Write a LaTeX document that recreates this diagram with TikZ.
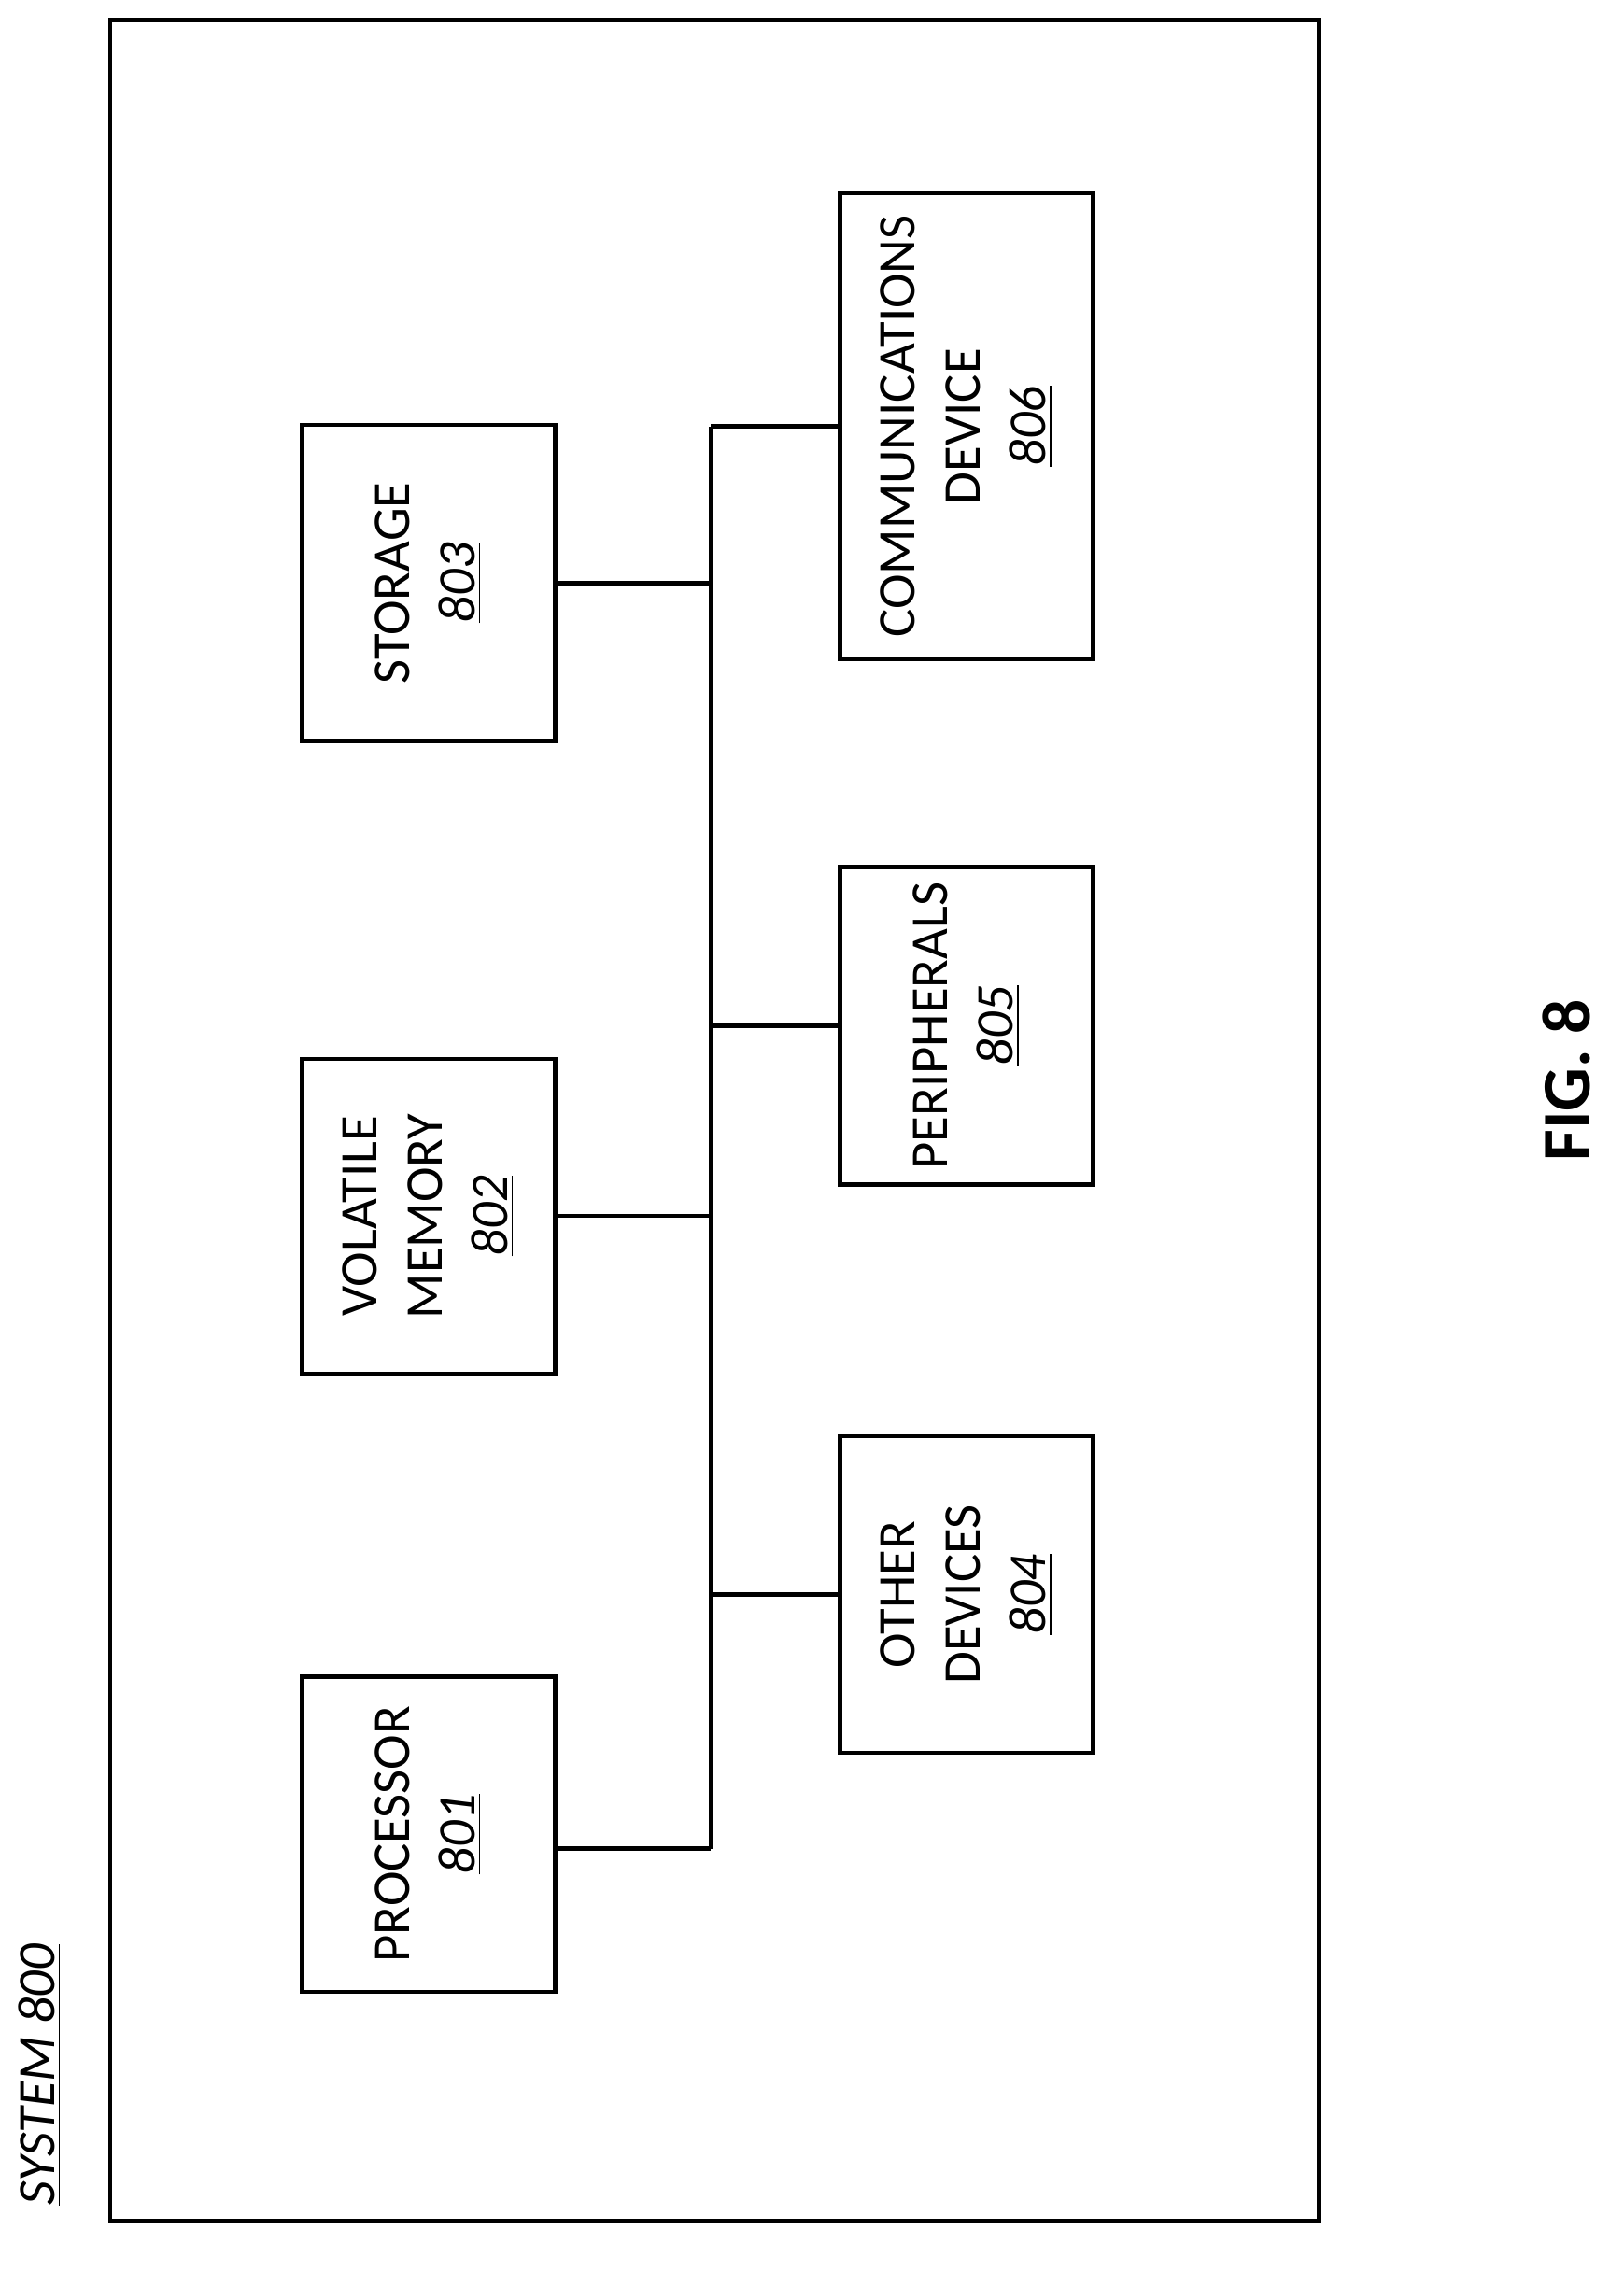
\documentclass[tikz,border=0pt]{standalone}
\usepackage{fontspec}
\setmainfont{Carlito}
\begin{document}
\begin{tikzpicture}[x=0.4596pt,y=-0.4596pt,
  box/.style={draw,line width=1.3pt,minimum width=177*0.4596pt,inner sep=0pt},
  lbl/.style={rotate=90,align=center,font=\fontsize{17}{21}\selectfont},
  bus/.style={line width=1.3pt}]
\useasboundingbox (0,0) rectangle (1135,1588);
\draw[line width=1.3pt] (77,14) rectangle (922,1552);
\node[box,minimum height=220*0.4596pt] (p) at (299.5,1282) {};
\node[box,minimum height=220*0.4596pt] (v) at (299.5,850) {};
\node[box,minimum height=221*0.4596pt] (s) at (299.5,407.5) {};
\node[box,minimum height=221*0.4596pt] (o) at (675.5,1114.5) {};
\node[box,minimum height=222*0.4596pt] (pe) at (675.5,717) {};
\node[box,minimum height=326*0.4596pt] (c) at (675.5,298) {};
\node[lbl] at (p) {PROCESSOR\\\underline{\itshape 801}};
\node[lbl] at (v) {VOLATILE\\MEMORY\\\underline{\itshape 802}};
\node[lbl] at (s) {STORAGE\\\underline{\itshape 803}};
\node[lbl] at (o) {OTHER\\DEVICES\\\underline{\itshape 804}};
\node[lbl] at (pe) {PERIPHERALS\\\underline{\itshape 805}};
\node[lbl] at (c) {COMMUNICATIONS\\DEVICE\\\underline{\itshape 806}};
\coordinate (bt) at (497,298);
\coordinate (bb) at (497,1292);
\draw[bus] (bt) -- (bb);
\draw[bus] (p.east |- 0,1292) -- (bb);
\draw[bus] (v.east) -- (v.east -| bt);
\draw[bus] (s.east) -- (s.east -| bt);
\draw[bus] (o.west) -- (o.west -| bt);
\draw[bus] (pe.west) -- (pe.west -| bt);
\draw[bus] (c.west) -- (c.west -| bt);
\node[rotate=90,font=\fontsize{17}{20}\selectfont\itshape,anchor=center] (sys) at (28,1450) {\underline{SYSTEM 800}};
\node[rotate=90,font=\fontsize{22}{26}\selectfont\bfseries] (fig) at (1095,755) {FIG. 8};
\end{tikzpicture}
\end{document}
